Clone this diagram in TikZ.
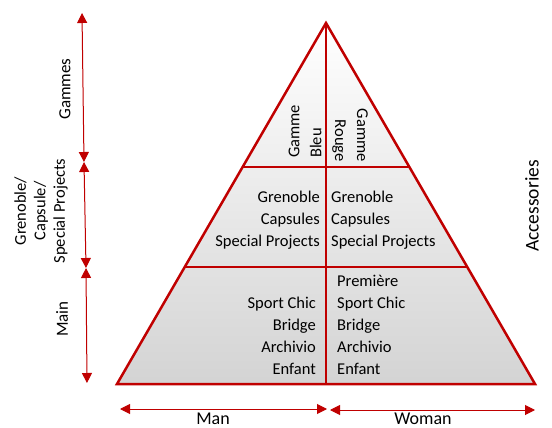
\documentclass[tikz,border=0pt]{standalone}
\usepackage{fontspec}
\setmainfont{Carlito}
\usetikzlibrary{arrows.meta,calc}
\definecolor{darkred}{HTML}{C00000}
\tikzstyle{edge} = [line width = 2.5pt, draw = darkred]
\tikzstyle{dimarrow} = [line width = 1pt, draw = darkred, 
	{Triangle[length = 10pt, width = 10pt]}-{Triangle[length = 10pt, width = 10pt]}]
\tikzstyle{tag} = [inner sep = 0pt, font = \fontsize{16.5}{22}\selectfont]
\begin{document}
\begin{tikzpicture}[x = 1pt, y = -1pt]
\useasboundingbox (0,0) rectangle (552,428);

% pyramid
\coordinate (apex) at (326,23);
\coordinate (baseL) at (117,384);
\coordinate (baseR) at (535,384);
\coordinate (baseM) at (326,384);
\coordinate (topL) at ($(apex)!0.399!(baseL)$);
\coordinate (topR) at ($(apex)!0.399!(baseR)$);
\coordinate (midL) at ($(apex)!0.676!(baseL)$);
\coordinate (midR) at ($(apex)!0.676!(baseR)$);

\shade [top color = white, bottom color = black!17] 
	(apex) -- (baseR) -- (baseL) -- cycle;
\draw [edge] (topL) -- (topR);
\draw [edge] (midL) -- (midR);
\draw [edge] (apex) -- (baseM);
\draw [edge] (apex) -- (baseR) -- (baseL) -- cycle;

\node (bleu) [tag, rotate = 90, align = left, anchor = west] 
	at (305,158) {Gamme\\Bleu};
\node (rouge) [tag, rotate = -90, align = right, anchor = east] 
	at (350,162) {Gamme\\Rouge};

\node (gcsL) [tag, align = right, anchor = east] at (320,220) 
	{Grenoble\\Capsules\\Special Projects};
\node (gcsR) [tag, align = left, anchor = west] at (331,220) 
	{Grenoble\\Capsules\\Special Projects};

\node (mainL) [tag, align = right, anchor = east] at (316,336) 
	{Sport Chic\\Bridge\\Archivio\\Enfant};
\node (mainR) [tag, align = left, anchor = west] at (337,325) 
	{Première\\Sport Chic\\Bridge\\Archivio\\Enfant};

% levels
\coordinate (lv0) at (82,13);
\coordinate (lv1) at (84,162);
\coordinate (lv2) at (86,268);
\coordinate (lv3) at (87,383);
\draw [dimarrow] (lv0) -- (lv1);
\draw [dimarrow] (lv1) -- (lv2);
\draw [dimarrow] (lv2) -- (lv3);

\node (gammes) [tag, rotate = 90, font = \fontsize{17}{20}\selectfont] 
	at (65,89) {Gammes};
\node (gcs) [tag, rotate = 90, align = center, 
	font = \fontsize{16.5}{19.5}\selectfont] at (41,211) 
	{Grenoble/\\Capsule/\\Special Projects};
\node (main) [tag, rotate = 90, font = \fontsize{17}{20}\selectfont] 
	at (62,319) {Main};
\node (acc) [tag, rotate = 90, font = \fontsize{19.5}{22}\selectfont] 
	at (532,206) {Accessories};

% man / woman
\coordinate (man0) at (120,409);
\coordinate (man1) at (327,409);
\coordinate (woman0) at (330,410);
\coordinate (woman1) at (535,410);
\draw [dimarrow] (man0) -- (man1);
\draw [dimarrow] (woman0) -- (woman1);

\node (man) [tag, anchor = base, font = \fontsize{18}{20}\selectfont] 
	at (213,424) {Man};
\node (woman) [tag, anchor = base, font = \fontsize{18}{20}\selectfont] 
	at (423,424) {Woman};
\end{tikzpicture}
\end{document}
